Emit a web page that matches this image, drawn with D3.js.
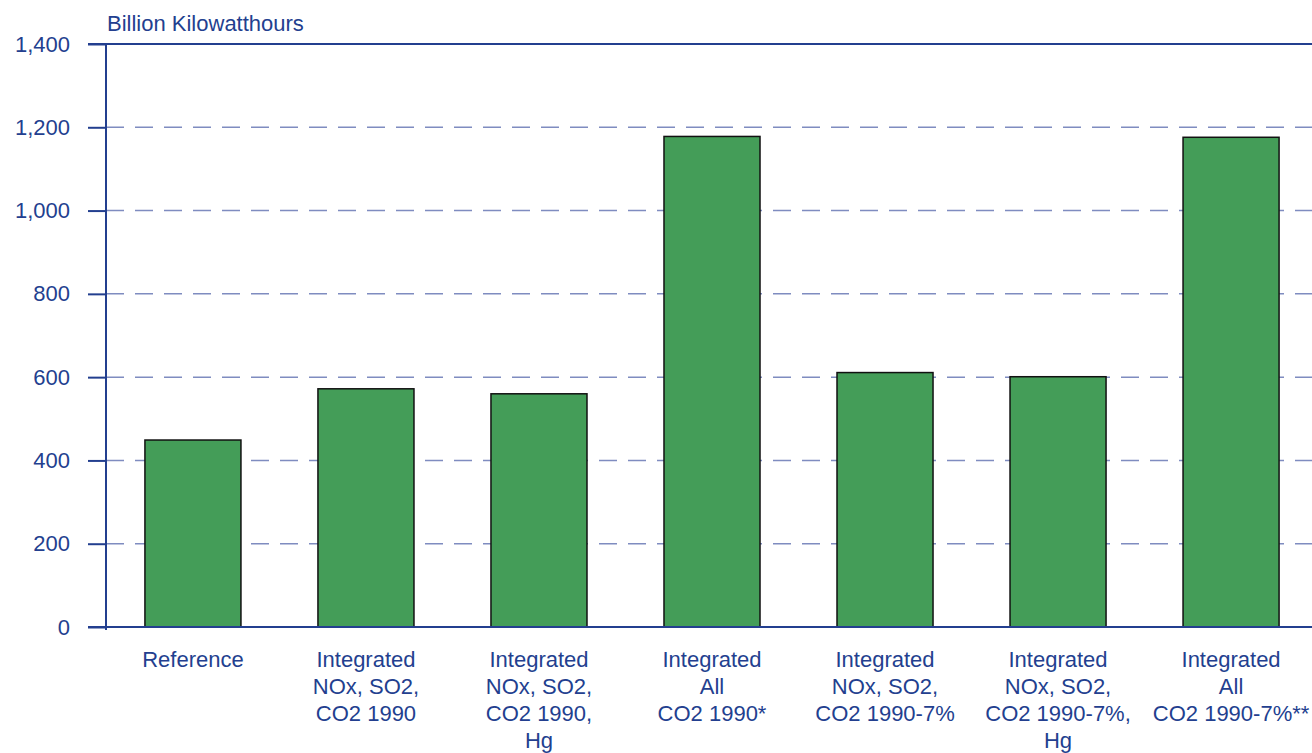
<!DOCTYPE html>
<html>
<head>
<meta charset="utf-8">
<script src="https://cdn.jsdelivr.net/npm/d3@7"></script>
<style>
  body { margin: 0; background: #fff; }
  text { font-family: "Liberation Sans", Arial, sans-serif; fill: #233f8f; }
</style>
</head>
<body>
<div id="chart"></div>
<script>
var categories = [
  ["Reference"],
  ["Integrated", "NOx, SO2,", "CO2 1990"],
  ["Integrated", "NOx, SO2,", "CO2 1990,", "Hg"],
  ["Integrated", "All", "CO2 1990*"],
  ["Integrated", "NOx, SO2,", "CO2 1990-7%"],
  ["Integrated", "NOx, SO2,", "CO2 1990-7%,", "Hg"],
  ["Integrated", "All", "CO2 1990-7%**"]
];
var values = [449, 572, 560, 1178, 611, 601, 1176];
var yTicks = [0, 200, 400, 600, 800, 1000, 1200, 1400];
var yTitle = "Billion Kilowatthours";

var svgWidth = 1312;
var svgHeight = 753;
var margin = { top: 44, right: 0, bottom: 126, left: 106 };
var width = svgWidth - margin.left - margin.right;
var height = svgHeight - margin.top - margin.bottom;
var axisColor = "#233f8f";

var svg = d3.select("#chart")
  .append("svg")
  .attr("width", svgWidth)
  .attr("height", svgHeight);

var chartGroup = svg.append("g")
  .attr("transform", `translate(${margin.left}, ${margin.top})`);

// the bars run slightly past the right edge of the picture
var xScale = d3.scaleBand()
  .domain(d3.range(categories.length))
  .range([0, width + 6])
  .paddingInner(0.445)
  .paddingOuter(0.225);

var yScale = d3.scaleLinear()
  .domain([0, 1400])
  .range([height, 0]);

// dashed gridlines
chartGroup.selectAll(".grid")
  .data(yTicks.filter(d => d > 0 && d < 1400))
  .enter()
  .append("line")
  .attr("x1", 0)
  .attr("x2", width)
  .attr("y1", d => yScale(d))
  .attr("y2", d => yScale(d))
  .attr("stroke", "#7f8cc0")
  .attr("stroke-width", 1.5)
  .attr("stroke-dasharray", "18,11");

// top border
chartGroup.append("line")
  .attr("x1", -18)
  .attr("x2", width)
  .attr("y1", yScale(1400))
  .attr("y2", yScale(1400))
  .attr("stroke", axisColor)
  .attr("stroke-width", 2);

// bars
chartGroup.selectAll(".bar")
  .data(values)
  .enter()
  .append("rect")
  .attr("x", (d, i) => xScale(i))
  .attr("y", d => yScale(d))
  .attr("width", xScale.bandwidth())
  .attr("height", d => height - yScale(d))
  .attr("fill", "#449d58")
  .attr("stroke", "#111")
  .attr("stroke-width", 1.5);

// y axis
var leftAxis = d3.axisLeft(yScale)
  .tickValues(yTicks)
  .tickSize(18)
  .tickPadding(18)
  .tickFormat(d3.format(","));

var yAxis = chartGroup.append("g").call(leftAxis);
yAxis.select(".domain").remove();
yAxis.selectAll("line").attr("stroke", axisColor).attr("stroke-width", 2);
yAxis.selectAll("text")
  .attr("font-size", 22)
  .attr("fill", axisColor)
  .style("font-family", "'Liberation Sans', Arial, sans-serif");

chartGroup.append("line")
  .attr("x1", 0).attr("x2", 0)
  .attr("y1", 0).attr("y2", height + 3)
  .attr("stroke", axisColor)
  .attr("stroke-width", 2);

chartGroup.append("line")
  .attr("x1", -18).attr("x2", width)
  .attr("y1", height).attr("y2", height)
  .attr("stroke", axisColor)
  .attr("stroke-width", 2);

// y title
svg.append("text")
  .attr("x", 107)
  .attr("y", 31)
  .attr("font-size", 22)
  .text(yTitle);

// x labels
var xLabels = chartGroup.selectAll(".xlabel")
  .data(categories)
  .enter()
  .append("text")
  .attr("text-anchor", "middle")
  .attr("font-size", 22)
  .attr("transform", (d, i) => `translate(${xScale(i) + xScale.bandwidth() / 2}, ${height + 40})`);

xLabels.selectAll("tspan")
  .data(d => d)
  .enter()
  .append("tspan")
  .attr("x", 0)
  .attr("y", (d, i) => i * 27)
  .text(d => d);
</script>
</body>
</html>
